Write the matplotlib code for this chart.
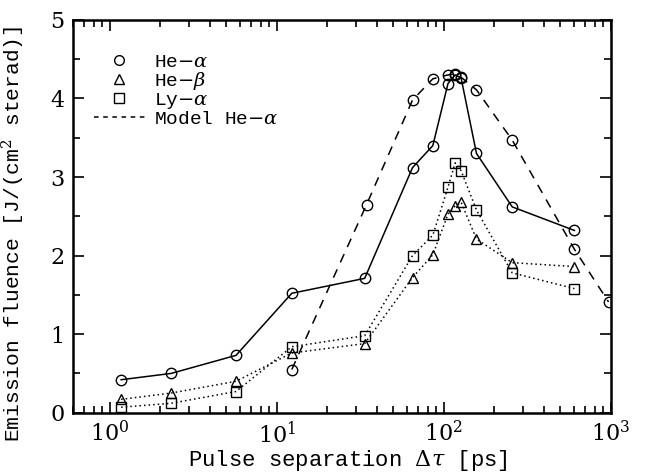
import matplotlib
matplotlib.use("Agg")
import matplotlib.pyplot as plt
import numpy as np
from matplotlib.ticker import LogLocator, MultipleLocator, LogFormatterMathtext
from matplotlib.lines import Line2D

plt.rcParams['font.family'] = ['DejaVu Serif']
plt.rcParams['mathtext.fontset'] = 'dejavuserif'

# He-alpha measured (solid, circles)
hea_x = [1.17, 2.33, 5.7, 12.3, 33.6, 65, 86, 106, 117, 127, 157, 257, 606]
hea_y = [0.42, 0.50, 0.73, 1.52, 1.71, 3.12, 3.40, 4.19, 4.30, 4.26, 3.30, 2.62, 2.32]

# He-beta (dotted, triangles)
heb_x = [1.17, 2.33, 5.7, 12.3, 33.6, 65, 86, 106, 117, 127, 157, 257, 606]
heb_y = [0.17, 0.25, 0.40, 0.76, 0.88, 1.72, 2.01, 2.53, 2.63, 2.68, 2.21, 1.91, 1.86]

# Ly-alpha (dotted, squares)
lya_x = [1.17, 2.33, 5.7, 12.3, 33.6, 65, 86, 106, 117, 127, 157, 257, 606]
lya_y = [0.07, 0.12, 0.27, 0.84, 0.98, 2.00, 2.26, 2.87, 3.18, 3.08, 2.58, 1.78, 1.58]

# Model He-alpha (dashed, circles)
mod_x = [12.3, 34.5, 65, 86, 106, 117, 127, 157, 257, 606, 970]
mod_y = [0.55, 2.65, 3.98, 4.25, 4.30, 4.31, 4.27, 4.11, 3.47, 2.08, 1.41]

legend_labels = [r'He$-\alpha$', r'He$-\beta$', r'Ly$-\alpha$', r'Model He$-\alpha$']

MONO = ['Liberation Mono', 'DejaVu Serif']

fig = plt.figure(figsize=(6.47, 4.74), dpi=100)
ax = fig.add_axes([0.1124, 0.1293, 0.944 - 0.1124, 0.958 - 0.1293])

ms = 7.5
lw = 1.1
ax.plot(hea_x, hea_y, '-', color='black', lw=lw, marker='o', ms=ms, mfc='none', mec='black', mew=1.0)
ax.plot(heb_x, heb_y, color='black', lw=lw, ls=(0, (1, 2)), marker='^', ms=ms, mfc='none', mec='black', mew=1.0)
ax.plot(lya_x, lya_y, color='black', lw=lw, ls=(0, (1, 2)), marker='s', ms=ms - 0.5, mfc='none', mec='black', mew=1.0)
ax.plot(mod_x, mod_y, color='black', lw=lw, ls=(0, (6, 5)), marker='o', ms=ms, mfc='none', mec='black', mew=1.0)

ax.set_xscale('log')
ax.set_xlim(0.6, 1000)
ax.set_ylim(0, 5)

ax.xaxis.set_major_locator(LogLocator(base=10, numticks=10))
ax.xaxis.set_minor_locator(LogLocator(base=10, subs=np.arange(2, 10), numticks=20))
ax.xaxis.set_major_formatter(LogFormatterMathtext())
ax.yaxis.set_major_locator(MultipleLocator(1))
ax.yaxis.set_minor_locator(MultipleLocator(0.5))

ax.tick_params(which='both', direction='in', top=True, right=True, width=1.2)
ax.tick_params(which='major', length=8, labelsize=16, pad=6)
ax.tick_params(which='minor', length=5)
for s in ax.spines.values():
    s.set_linewidth(1.8)

ax.set_xlabel(r'Pulse separation $\Delta\tau$ [ps]', fontsize=16, family=MONO)
ax.set_ylabel(r'Emission fluence [J/(cm$^2$ sterad)]', fontsize=15.3, family=MONO)
ax.xaxis.set_label_coords(0.512, -0.09)
ax.yaxis.set_label_coords(-0.085, 0.455)

handles = [
    Line2D([], [], ls='none', marker='o', ms=7, mfc='none', mec='black', color='black'),
    Line2D([], [], ls='none', marker='^', ms=7, mfc='none', mec='black', color='black'),
    Line2D([], [], ls='none', marker='s', ms=6.5, mfc='none', mec='black', color='black'),
    Line2D([], [], ls=(0, (3, 3)), color='black', lw=1.1),
]
ax.legend(handles, legend_labels, loc='upper left', bbox_to_anchor=(0.025, 0.935), frameon=False,
          prop={'family': MONO, 'size': 14}, handlelength=2.6, handletextpad=0.5,
          labelspacing=-0.05, borderaxespad=0)

fig.savefig('out.png', dpi=100)
